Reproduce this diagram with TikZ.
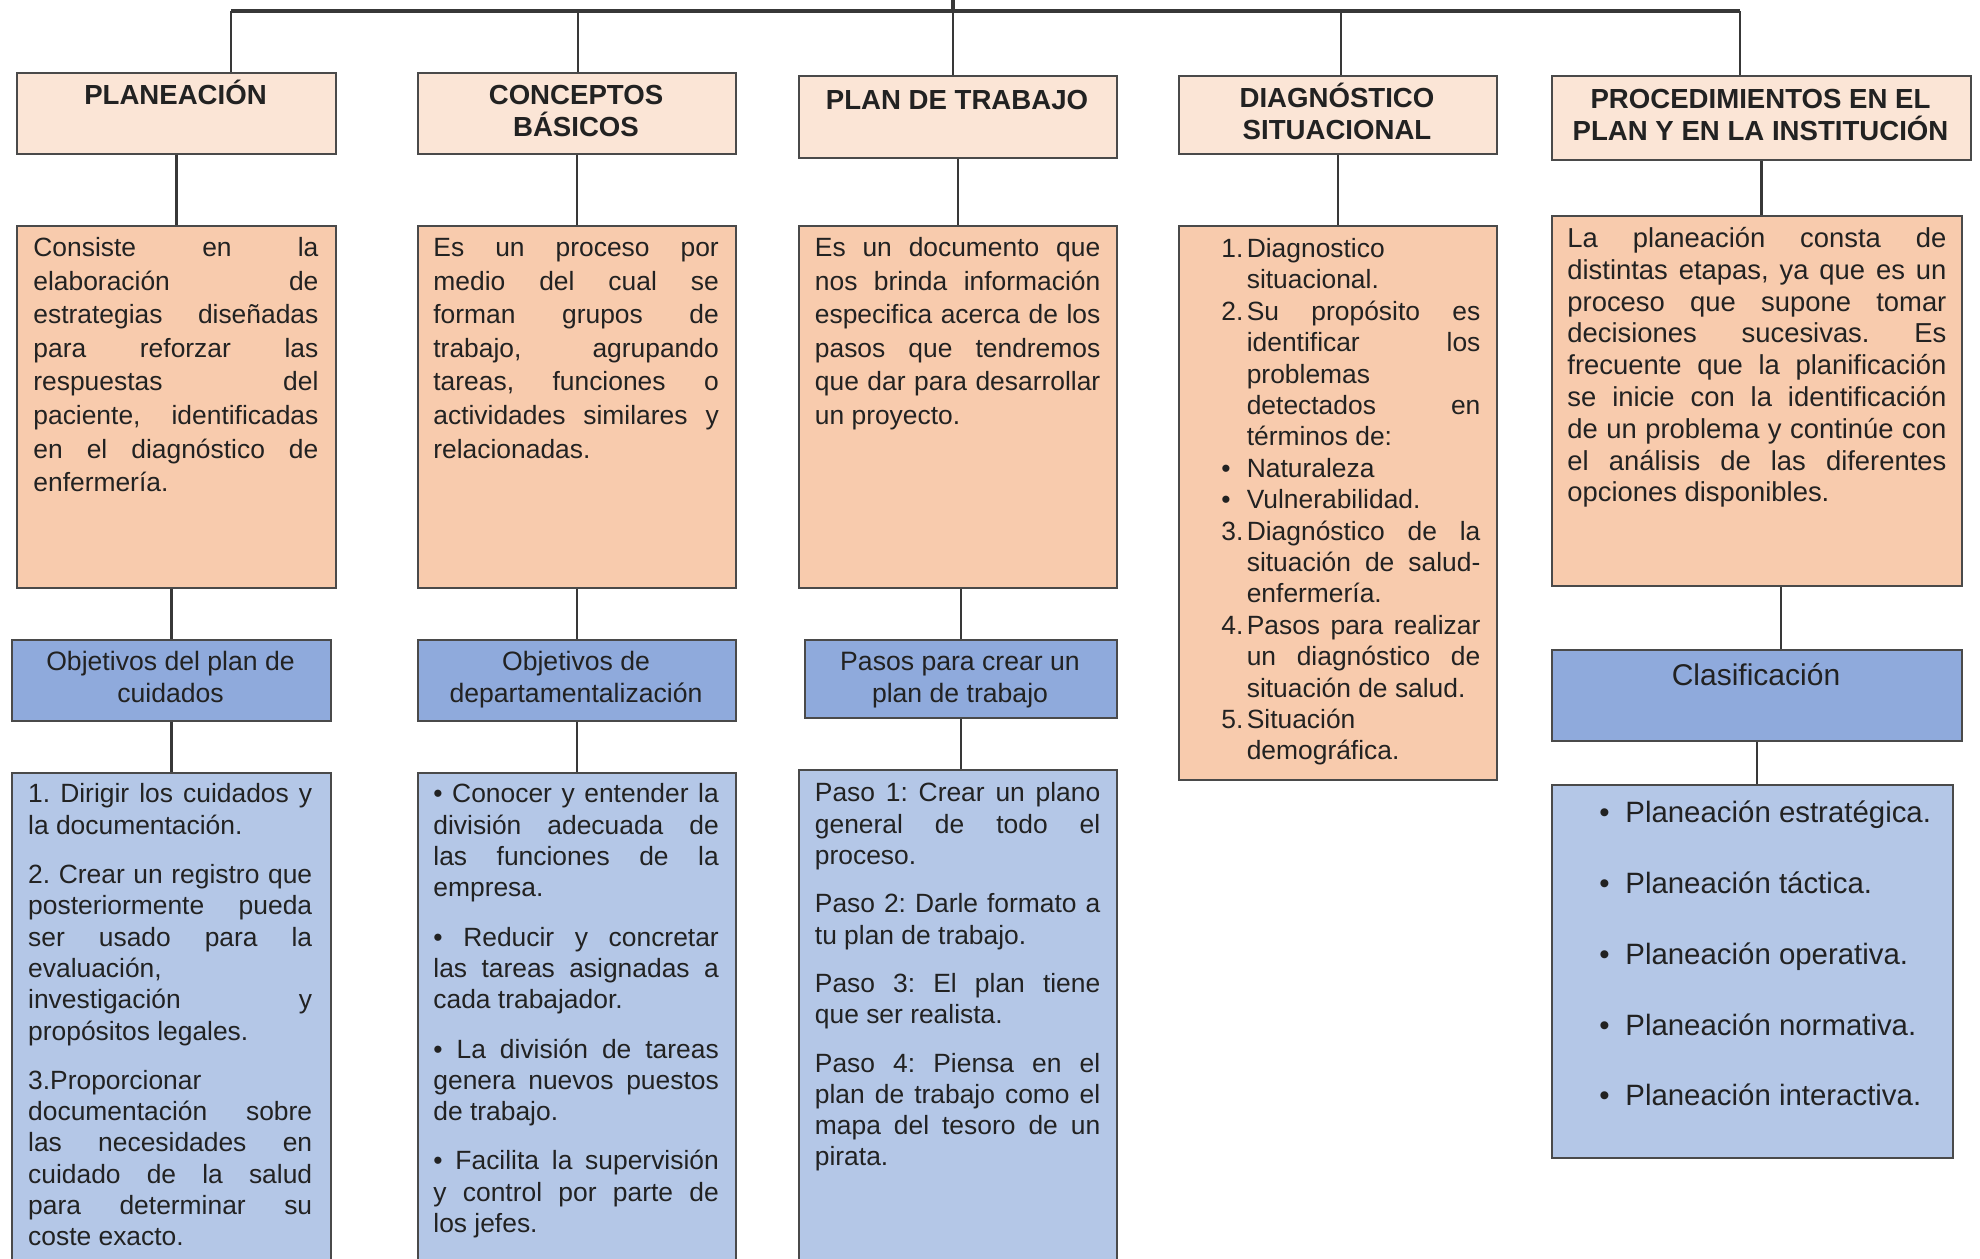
\documentclass[tikz,border=0pt]{standalone}
\usepackage{fontspec}
\setmainfont{Liberation Sans}
\usetikzlibrary{calc}
\definecolor{hdrfill}{HTML}{FBE5D6}
\definecolor{descfill}{HTML}{F8CBAD}
\definecolor{bluehd}{HTML}{8FAADC}
\definecolor{bluelist}{HTML}{B4C7E7}
\definecolor{edgec}{HTML}{4A4A4A}
\definecolor{linec}{HTML}{383838}
\definecolor{txtc}{HTML}{222222}
\newcommand\tstrut{\rule{0pt}{16pt}}
\newcommand\dgi[1]{\par\hangindent=12.7pt\hangafter=1\noindent\makebox[12.7pt][l]{#1}}
\hyphenpenalty=10000
\tolerance=9999
\frenchspacing
\begin{document}
\begin{tikzpicture}[x=0.5pt,y=-0.5pt,
  box/.style={draw=edgec, line width=0.8pt, inner sep=0pt, anchor=north west},
  hbox/.style={box, fill=hdrfill},
  dbox/.style={box, fill=descfill},
  bbox/.style={box, fill=bluehd},
  lbox/.style={box, fill=bluelist},
  conn/.style={draw=linec, line width=1.3pt},
  barline/.style={draw=linec, line width=1.8pt},
  htxt/.style={anchor=north, inner sep=0pt, align=center, text=txtc, font=\fontsize{13.8}{15.8}\selectfont\bfseries\frenchspacing},
  jtxt/.style={anchor=north west, inner sep=0pt, align=justify, text=txtc},
  ctxt/.style={anchor=north, inner sep=0pt, align=center, text=txtc},
  ltxt/.style={anchor=north west, inner sep=0pt, align=left, text=txtc}
]
\fill[white] (0,0) rectangle (1980,1258);
\useasboundingbox (0,0) rectangle (1980,1258);

% header boxes
\node[hbox, minimum width=159.5pt, minimum height=40.5pt] (h1) at (16,72) {};
\node[hbox, minimum width=159pt, minimum height=40.5pt] (h2) at (417,72) {};
\node[hbox, minimum width=159pt, minimum height=41pt] (h3) at (798,75) {};
\node[hbox, minimum width=159pt, minimum height=39pt] (h4) at (1178,75) {};
\node[hbox, minimum width=209.5pt, minimum height=42pt] (h5) at (1551,75) {};

% description boxes
\node[dbox, minimum width=159.5pt, minimum height=181pt] (d1) at (16,225) {};
\node[dbox, minimum width=159pt, minimum height=181pt] (d2) at (417,225) {};
\node[dbox, minimum width=159pt, minimum height=181pt] (d3) at (798,225) {};
\node[dbox, minimum width=159pt, minimum height=277pt] (d4) at (1178,225) {};
\node[dbox, minimum width=205pt, minimum height=185pt] (d5) at (1551,215) {};

% blue heading boxes
\node[bbox, minimum width=159.5pt, minimum height=40.5pt] (b1) at (11,639) {};
\node[bbox, minimum width=159pt, minimum height=40.5pt] (b2) at (417,639) {};
\node[bbox, minimum width=156pt, minimum height=39pt] (b3) at (804,639) {};
\node[bbox, minimum width=205pt, minimum height=45.5pt] (b5) at (1551,649) {};

% list boxes
\node[lbox, minimum width=159.5pt, minimum height=249pt] (l1) at (11,772) {};
\node[lbox, minimum width=159pt, minimum height=249pt] (l2) at (417,772) {};
\node[lbox, minimum width=159pt, minimum height=250.5pt] (l3) at (798,769) {};
\node[lbox, minimum width=200.5pt, minimum height=186.5pt] (l5) at (1551,784) {};

% connectors
\coordinate (root) at (953,0);
\coordinate (barL) at (231,11);
\coordinate (barR) at (1740,11);
\coordinate (j2) at (578,11);
\coordinate (j3) at (953,11);
\coordinate (j4) at (1341,11);
\draw[barline] (root) -- (j3);
\draw[barline] (barL) -- (barR);
\draw[conn] (barL) -- (barL |- h1.north);
\draw[conn] (j2) -- (j2 |- h2.north);
\draw[conn] (j3) -- (j3 |- h3.north);
\draw[conn] (j4) -- (j4 |- h4.north);
\draw[conn] (barR) -- (barR |- h5.north);

\draw[conn] (h1.south) -- (d1.north);
\draw[conn] (h2.south) -- (d2.north);
\draw[conn] (h3.south) -- (d3.north);
\draw[conn] (h4.south) -- (d4.north);
\draw[conn] (h5.south) -- (h5.south |- d5.north);

\draw[conn] (b1.north |- d1.south) -- (b1.north);
\draw[conn] (d2.south) -- (b2.north);
\draw[conn] (b3.north |- d3.south) -- (b3.north);
\coordinate (c5) at ([xshift=12pt]b5.north);
\draw[conn] (c5 |- d5.south) -- (c5);

\draw[conn] (b1.south) -- (b1.south |- l1.north);
\draw[conn] (b2.south) -- (l2.north);
\draw[conn] (b3.south) -- (b3.south |- l3.north);
\draw[conn] (b5.south) -- (b5.south |- l5.north);

% header texts
\node[htxt] (h1t) at (175.5,72.5) {\tstrut PLANEACIÓN};
\node[htxt] (h2t) at (576,72.5) {\tstrut CONCEPTOS\\BÁSICOS};
\node[htxt] (h3t) at (957,77.5) {\tstrut PLAN DE TRABAJO};
\node[htxt] (h4t) at (1337,75) {\tstrut DIAGNÓSTICO\\SITUACIONAL};
\node[htxt] (h5t) at (1760.5,76) {\tstrut PROCEDIMIENTOS EN EL\\PLAN Y EN LA INSTITUCIÓN};

% description texts
\node[jtxt, text width=142.5pt, font=\fontsize{13.2}{16.8}\selectfont\frenchspacing] (d1t) at (33,224)
{\tstrut Consiste en la\linebreak elaboración de\linebreak estrategias diseñadas\linebreak para reforzar las\linebreak respuestas del\linebreak paciente, identificadas\linebreak en el diagnóstico de\linebreak enfermería.};
\node[jtxt, text width=142.7pt, font=\fontsize{13.2}{16.8}\selectfont\frenchspacing] (d2t) at (433,224)
{\tstrut Es un proceso por\linebreak medio del cual se\linebreak forman grupos de\linebreak trabajo, agrupando\linebreak tareas, funciones o\linebreak actividades similares y\linebreak relacionadas.};
\node[jtxt, text width=142.7pt, font=\fontsize{13.2}{16.8}\selectfont\frenchspacing] (d3t) at (814.5,224)
{\tstrut Es un documento que\linebreak nos brinda información\linebreak especifica acerca de los\linebreak pasos que tendremos\linebreak que dar para desarrollar\linebreak un proyecto.};
\node[jtxt, text width=129.5pt, font=\fontsize{13.2}{15.7}\selectfont\frenchspacing] (d4t) at (1221,223)
{\dgi{\tstrut 1.}Diagnostico\linebreak situacional.
\dgi{2.}Su propósito es\linebreak identificar los\linebreak problemas\linebreak detectados en\linebreak términos de:
\dgi{•}Naturaleza
\dgi{•}Vulnerabilidad.
\dgi{3.}Diagnóstico de la\linebreak situación de salud-\linebreak enfermería.
\dgi{4.}Pasos para realizar\linebreak un diagnóstico de\linebreak situación de salud.
\dgi{5.}Situación\linebreak demográfica.\par};
\node[jtxt, text width=189.5pt, font=\fontsize{13.7}{15.9}\selectfont\frenchspacing] (d5t) at (1567,215)
{\tstrut La planeación consta de\linebreak distintas etapas, ya que es un\linebreak proceso que supone tomar\linebreak decisiones sucesivas. Es\linebreak frecuente que la planificación\linebreak se inicie con la identificación\linebreak de un problema y continúe con\linebreak el análisis de las diferentes\linebreak opciones disponibles.};

% blue heading texts
\node[ctxt, font=\fontsize{13.3}{15.8}\selectfont] (b1t) at (170.5,638) {\tstrut Objetivos del plan de\\cuidados};
\node[ctxt, font=\fontsize{13.3}{15.8}\selectfont] (b2t) at (576,638) {\tstrut Objetivos de\\departamentalización};
\node[ctxt, font=\fontsize{13.3}{15.8}\selectfont] (b3t) at (960,638) {\tstrut Pasos para crear un\\plan de trabajo};
\node[ctxt, font=\fontsize{15}{18}\selectfont] (b5t) at (1756,653) {\tstrut Clasificación};

% list texts
\node[jtxt, text width=142pt, font=\fontsize{13.2}{15.65}\selectfont\frenchspacing] (l1t) at (27.8,770.5)
{\tstrut 1. Dirigir los cuidados y\linebreak la documentación.\par\vspace{9pt}
2. Crear un registro que\linebreak posteriormente pueda\linebreak ser usado para la\linebreak evaluación,\linebreak investigación y\linebreak propósitos legales.\par\vspace{9pt}
3.Proporcionar\linebreak documentación sobre\linebreak las necesidades en\linebreak cuidado de la salud\linebreak para determinar su\linebreak coste exacto.};
\node[jtxt, text width=142.7pt, font=\fontsize{13.2}{15.65}\selectfont\frenchspacing] (l2t) at (433,770.5)
{\tstrut • Conocer y entender la\linebreak división adecuada de\linebreak las funciones de la\linebreak empresa.\par\vspace{9pt}
• Reducir y concretar\linebreak las tareas asignadas a\linebreak cada trabajador.\par\vspace{9pt}
• La división de tareas\linebreak genera nuevos puestos\linebreak de trabajo.\par\vspace{9pt}
• Facilita la supervisión\linebreak y control por parte de\linebreak los jefes.};
\node[jtxt, text width=142.7pt, font=\fontsize{13.2}{15.65}\selectfont\frenchspacing] (l3t) at (814.5,769.5)
{\tstrut Paso 1: Crear un plano\linebreak general de todo el\linebreak proceso.\par\vspace{8.5pt}
Paso 2: Darle formato a\linebreak tu plan de trabajo.\par\vspace{8.5pt}
Paso 3: El plan tiene\linebreak que ser realista.\par\vspace{8.5pt}
Paso 4: Piensa en el\linebreak plan de trabajo como el\linebreak mapa del tesoro de un\linebreak pirata.};
\node[ltxt, font=\fontsize{14.7}{35.35}\selectfont] (l5t) at (1599,790.5)
{\tstrut\makebox[13pt][l]{•}Planeación estratégica.\\
\makebox[13pt][l]{•}Planeación táctica.\\
\makebox[13pt][l]{•}Planeación operativa.\\
\makebox[13pt][l]{•}Planeación normativa.\\
\makebox[13pt][l]{•}Planeación interactiva.};
\end{tikzpicture}
\end{document}
